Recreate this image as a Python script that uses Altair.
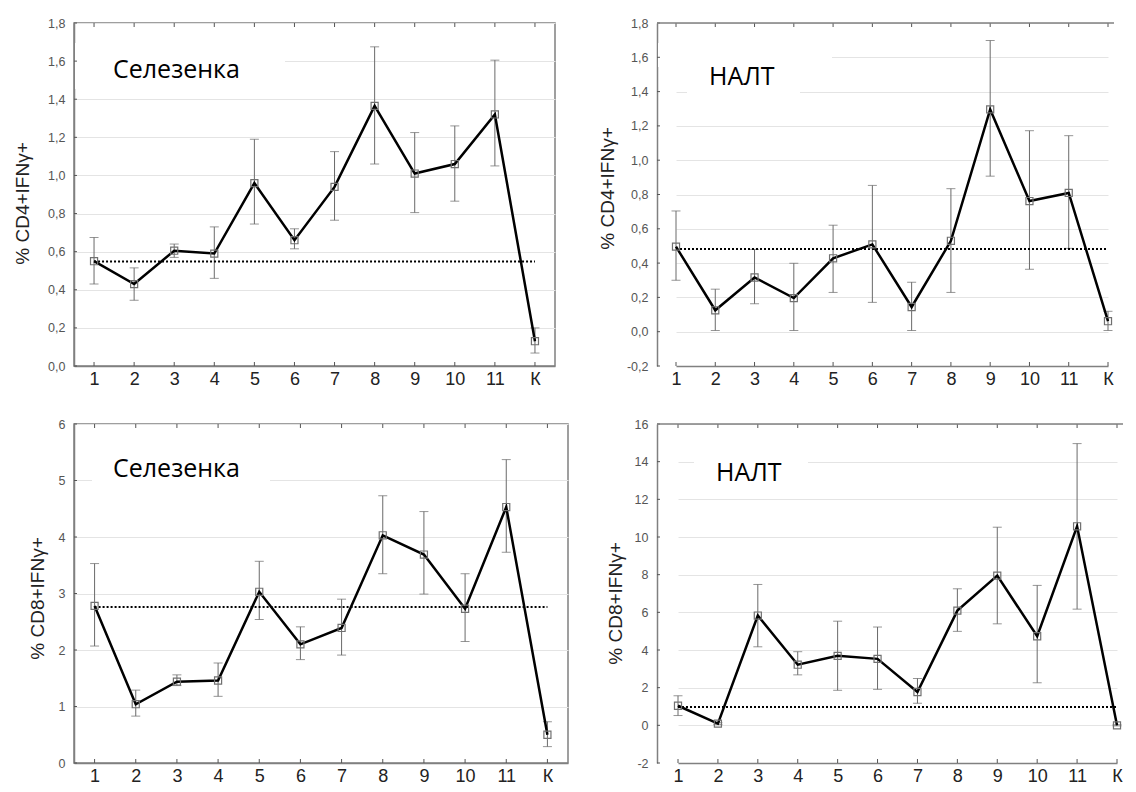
import altair as alt
import pandas as pd

cats = ["1", "2", "3", "4", "5", "6", "7", "8", "9", "10", "11", "К"]

# Top-left: Селезенка, CD4+IFNγ+
tl_mean = [0.55, 0.43, 0.605, 0.59, 0.96, 0.66, 0.94, 1.365, 1.01, 1.06, 1.32, 0.13]
tl_lo = [0.43, 0.345, 0.57, 0.46, 0.745, 0.615, 0.765, 1.06, 0.805, 0.865, 1.05, 0.068]
tl_hi = [0.675, 0.515, 0.64, 0.73, 1.19, 0.72, 1.125, 1.675, 1.225, 1.26, 1.605, 0.2]
tl_ref = 0.548
tl_ticks = [0.0, 0.2, 0.4, 0.6, 0.8, 1.0, 1.2, 1.4, 1.6, 1.8]

# Top-right: НАЛТ, CD4+IFNγ+
tr_mean = [0.496, 0.125, 0.316, 0.196, 0.428, 0.509, 0.144, 0.53, 1.296, 0.762, 0.809, 0.061]
tr_lo = [0.30, 0.007, 0.163, 0.007, 0.229, 0.171, 0.007, 0.229, 0.907, 0.364, 0.486, 0.007]
tr_hi = [0.704, 0.248, 0.48, 0.399, 0.621, 0.853, 0.289, 0.834, 1.698, 1.172, 1.143, 0.119]
tr_ref = 0.482
tr_ticks = [-0.2, 0.0, 0.2, 0.4, 0.6, 0.8, 1.0, 1.2, 1.4, 1.6, 1.8]

# Bottom-left: Селезенка, CD8+IFNγ+
bl_mean = [2.78, 1.04, 1.44, 1.46, 3.03, 2.10, 2.39, 4.03, 3.69, 2.73, 4.53, 0.50]
bl_lo = [2.07, 0.83, 1.37, 1.18, 2.54, 1.83, 1.91, 3.35, 2.99, 2.15, 3.73, 0.29]
bl_hi = [3.53, 1.29, 1.56, 1.77, 3.57, 2.41, 2.90, 4.73, 4.45, 3.35, 5.37, 0.73]
bl_ref = 2.76
bl_ticks = [0, 1, 2, 3, 4, 5, 6]

# Bottom-right: НАЛТ, CD8+IFNγ+
br_mean = [1.04, 0.09, 5.83, 3.22, 3.69, 3.53, 1.77, 6.09, 7.95, 4.73, 10.57, 0.0]
br_lo = [0.52, 0.04, 4.17, 2.68, 1.86, 1.91, 1.17, 4.99, 5.39, 2.26, 6.17, -0.03]
br_hi = [1.57, 0.14, 7.48, 3.91, 5.53, 5.22, 2.49, 7.25, 10.52, 7.43, 14.96, 0.03]
br_ref = 0.98
br_ticks = [-2, 0, 2, 4, 6, 8, 10, 12, 14, 16]

AXIS_FONT = "Liberation Sans"
FRAME = "#808080"
TICKC = "#555555"


def panel(mean, lo, hi, ref, ticks, decimals, ytitle, label, width, height,
          xrange, title_xy, text_xy, boxes, open_right):
    df = pd.DataFrame({"cat": cats, "m": mean, "lo": lo, "hi": hi})
    tdf = pd.DataFrame({"t": ticks})
    if xrange is None:
        xscale = alt.Scale(type="point", domain=cats, padding=0.5)
    else:
        xscale = alt.Scale(type="point", domain=cats, range=xrange, padding=0)
    xaxis = alt.Axis(title=None, labelAngle=0, labelFontSize=18, labelFont=AXIS_FONT,
                     labelColor="#222", labelPadding=4, ticks=False, tickSize=0, grid=False,
                     domainColor=FRAME, domainWidth=1.5)
    fmt = ".1f" if decimals else "d"
    yaxis = alt.Axis(values=ticks,
                     labelExpr="replace(replace(format(datum.value, '%s'), '.', ','), '\u2212', '-')" % fmt,
                     labelFontSize=12.5, labelFont=AXIS_FONT, labelColor="#555", labelPadding=9,
                     ticks=False, tickSize=0, grid=True, gridColor="#e4e4e4", gridWidth=1,
                     domainColor=FRAME, domainWidth=1.5,
                     title=ytitle, titleFont=AXIS_FONT, titleFontSize=19, titleFontWeight="normal",
                     titleColor="#222", titleAngle=270, titleBaseline="middle", titleAlign="center",
                     titleX=title_xy[0], titleY=title_xy[1])
    yscale = alt.Scale(domain=[ticks[0], ticks[-1]], nice=False, zero=False)

    def X(field):
        return alt.X(field, type="ordinal", scale=xscale, axis=xaxis)

    def Y(field):
        return alt.Y(field, type="quantitative", scale=yscale, axis=yaxis)

    base = alt.Chart(df)
    one = alt.Chart(pd.DataFrame({"k": [0]}))

    layers = []
    for (bx1, bx2, by1, by2) in boxes:
        layers.append(one.mark_rect(color="white").encode(
            x=alt.value(bx1), x2=alt.value(bx2), y=alt.value(by1), y2=alt.value(by2)))

    # small inward ticks on the frame
    layers.append(base.mark_rule(color=TICKC, strokeWidth=1).encode(
        x=X("cat"), y=alt.value(0), y2=alt.value(4)))
    layers.append(base.mark_rule(color=TICKC, strokeWidth=1).encode(
        x=X("cat"), y=alt.value(height - 4), y2=alt.value(height)))
    layers.append(alt.Chart(tdf).mark_rule(color=TICKC, strokeWidth=1).encode(
        y=Y("t"), x=alt.value(0), x2=alt.value(3)))

    if open_right:
        layers.append(one.mark_rule(color=FRAME, strokeWidth=1.5).encode(
            x=alt.value(0), x2=alt.value(width), y=alt.value(0)))

    layers.append(base.mark_rule(color="#6a6a6a", strokeWidth=1).encode(
        x=X("cat"), y=Y("lo"), y2="hi"))
    layers.append(base.mark_tick(color="#6a6a6a", thickness=1, size=9).encode(
        x=X("cat"), y=Y("lo")))
    layers.append(base.mark_tick(color="#6a6a6a", thickness=1, size=9).encode(
        x=X("cat"), y=Y("hi")))

    refdf = pd.DataFrame({"a": [cats[0]], "b": [cats[-1]], "r": [ref]})
    layers.append(alt.Chart(refdf).mark_rule(color="black", strokeWidth=2, strokeDash=[2, 2]).encode(
        x=X("a"), x2="b", y=Y("r")))

    layers.append(base.mark_line(color="black", strokeWidth=2.5).encode(x=X("cat"), y=Y("m")))
    layers.append(base.mark_point(shape="square", filled=False, size=50, color="#707070",
                                  strokeWidth=1.2, opacity=1).encode(x=X("cat"), y=Y("m")))

    layers.append(one.mark_text(text=label, font="Open Sans", fontSize=25, align="left",
                                baseline="middle", color="black").encode(
        x=alt.value(text_xy[0]), y=alt.value(text_xy[1])))

    ch = alt.layer(*layers).properties(width=width, height=height)
    if open_right:
        ch = ch.properties(view=alt.ViewBackground(stroke=None))
    return ch


tl = panel(tl_mean, tl_lo, tl_hi, tl_ref, tl_ticks, True, "% CD4+IFNγ+", "Селезенка",
           481, 343, None, (-52, 180), (39, 47), [(1, 211, 20, 66)], False)
tr = panel(tr_mean, tr_lo, tr_hi, tr_ref, tr_ticks, True, "% CD4+IFNγ+", "НАЛТ",
           457, 343, [19, 451], (-50, 165), (52, 54), [(1, 175, 20, 44), (30, 143, 44, 78)], True)
bl = panel(bl_mean, bl_lo, bl_hi, bl_ref, bl_ticks, False, "% CD8+IFNγ+", "Селезенка",
           494, 339, None, (-37, 174), (39, 45), [(18, 196, 30, 66)], False)
br = panel(br_mean, br_lo, br_hi, br_ref, br_ticks, False, "% CD8+IFNγ+", "НАЛТ",
           466, 339, [21, 460], (-42, 179), (59, 49), [(37, 151, 26, 64)], True)

chart = alt.concat(tl, tr, bl, br, columns=2, align="each",
                   spacing={"row": 28, "column": 29}).properties(
    padding={"left": 4, "top": 8, "right": 0, "bottom": 0}
).configure_view(stroke=FRAME, strokeWidth=1.5)

chart.save("out.html", embed_options={"renderer": "svg", "actions": False})
